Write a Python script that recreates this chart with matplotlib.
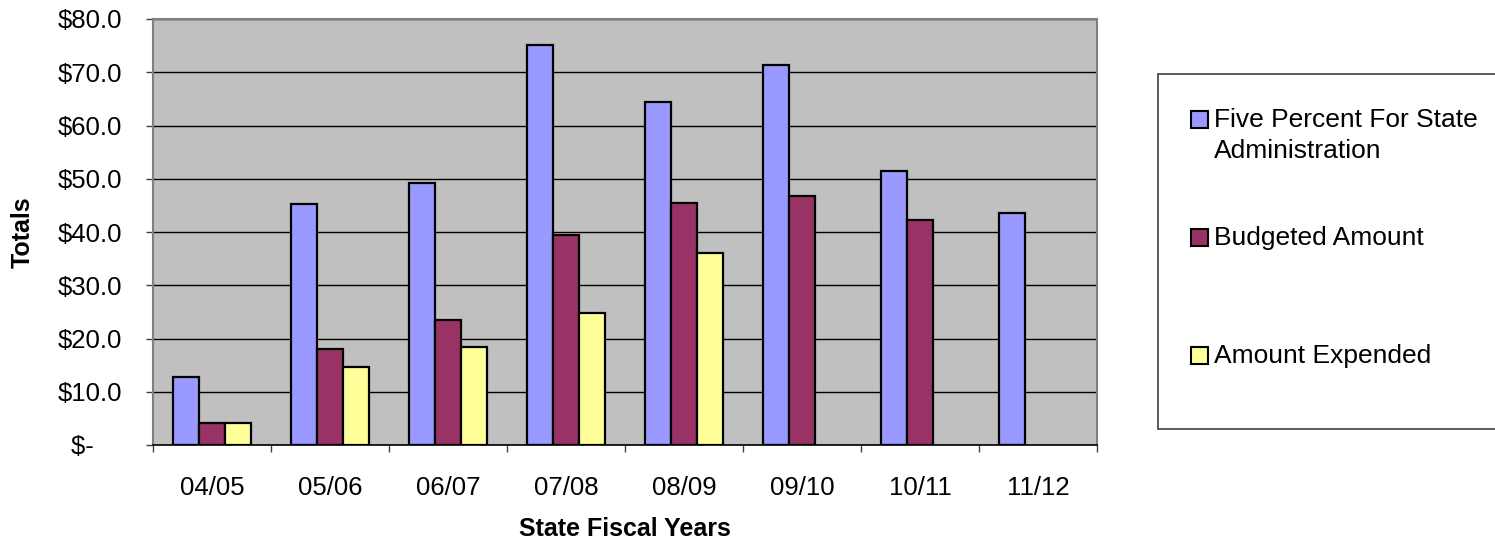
import matplotlib
matplotlib.use("Agg")
import matplotlib.pyplot as plt
from matplotlib.patches import Rectangle
from matplotlib.ticker import FixedLocator, NullFormatter
import numpy as np

plt.rcParams['font.family'] = ['Liberation Sans', 'DejaVu Sans']

categories = ["04/05", "05/06", "06/07", "07/08", "08/09", "09/10", "10/11", "11/12"]
five_percent = [12.7, 45.3, 49.2, 75.1, 64.5, 71.4, 51.5, 43.5]
budgeted = [4.2, 18.1, 23.4, 39.4, 45.5, 46.8, 42.3, np.nan]
expended = [4.2, 14.7, 18.4, 24.7, 36.0, np.nan, np.nan, np.nan]
series_names = ["Five Percent For State\nAdministration", "Budgeted Amount", "Amount Expended"]
colors = ["#9999FF", "#993366", "#FFFF99"]
yticks = [0, 10, 20, 30, 40, 50, 60, 70, 80]

W, H = 1495, 541
fig = plt.figure(figsize=(W / 100, H / 100), dpi=100)
ax = fig.add_axes([153 / W, 1 - 445 / H, (1097 - 153) / W, (445 - 19) / H])
ax.set_facecolor("#C0C0C0")

x = np.arange(len(categories))
bw = 0.22
for i, (vals, c) in enumerate(zip([five_percent, budgeted, expended], colors)):
    ax.bar(x + (i - 1) * bw, vals, width=bw, color=c, edgecolor="black",
           linewidth=1.6, zorder=3)

ax.set_xlim(-0.5, len(categories) - 0.5)
ax.set_ylim(0, 80)
ax.set_yticks(yticks)
ax.set_yticklabels(["$-    " if v == 0 else f"${v:.1f}" for v in yticks], fontsize=18.5)
ax.yaxis.grid(True, color="black", linewidth=1.0, zorder=1)
ax.tick_params(axis="y", length=5, width=1, color="#404040", pad=17)

ax.set_xticks(x)
ax.set_xticklabels(categories, fontsize=18.5)
ax.tick_params(axis="x", which="major", length=0, pad=22)
ax.xaxis.set_minor_locator(FixedLocator(np.arange(-0.5, len(categories), 1.0)))
ax.xaxis.set_minor_formatter(NullFormatter())
ax.tick_params(axis="x", which="minor", length=5, width=1, color="#404040")

for s in ["top", "right", "left"]:
    ax.spines[s].set_color("#808080")
    ax.spines[s].set_linewidth(1.5)
ax.spines["bottom"].set_color("black")
ax.spines["bottom"].set_linewidth(1.2)

fig.text(625 / W, 1 - 529 / H, "State Fiscal Years", ha="center", va="center",
         fontsize=18, fontweight="bold")
fig.text(23 / W, 1 - 232 / H, "Totals", ha="center", va="center",
         fontsize=18, fontweight="bold", rotation=90)

# legend box
fig.patches.append(Rectangle((1158 / W, 1 - 429 / H), (1520 - 1158) / W, (429 - 74) / H,
                             transform=fig.transFigure, facecolor="white",
                             edgecolor="#404040", linewidth=1.2))
leg_y = [119, 237, 355]
for name, c, yy in zip(series_names, colors, leg_y):
    fig.patches.append(Rectangle((1191 / W, 1 - (yy + 8.5) / H), 17 / W, 17 / H,
                                 transform=fig.transFigure, facecolor=c,
                                 edgecolor="black", linewidth=1.5))
    fig.text(1214 / W, 1 - (yy - 11) / H, name, ha="left", va="top",
             fontsize=19, linespacing=1.38)

fig.savefig("out.png", dpi=100)
